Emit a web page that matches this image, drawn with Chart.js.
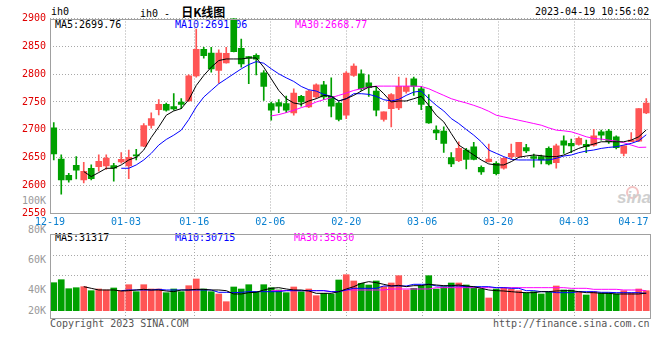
<!DOCTYPE html>
<html><head><meta charset="utf-8">
<script src="https://cdn.jsdelivr.net/npm/chart.js@4.4.0/dist/chart.umd.min.js"></script>
<style>
html,body{margin:0;padding:0;background:#fff;}
#wrap{position:relative;width:660px;height:360px;overflow:hidden;font-family:"DejaVu Sans Mono",monospace;}
.t{position:absolute;font-size:10px;line-height:12px;white-space:pre;font-family:"DejaVu Sans Mono",monospace;}
.vl{position:absolute;left:0;width:46px;text-align:right;font-size:10px;line-height:12px;color:#999;font-family:"DejaVu Sans Mono",monospace;}
canvas{position:absolute;left:0;top:0;}
</style></head><body>
<div id="wrap">
 <div class="t" style="left:51px;top:6px;color:#000">ih0</div>
 <div class="t" style="left:140px;top:6px;color:#000">ih0 - <span style="font-family:'Noto Sans CJK SC';font-weight:bold;font-size:12px;line-height:12px;margin-left:5px">日K线图</span></div>
 <div class="t" style="left:535px;top:6px;color:#000">2023-04-19 10:56:02</div>
 <div class="t" style="left:55px;top:19px;color:#000">MA5:2699.76</div>
 <div class="t" style="left:175px;top:19px;color:#0000ff">MA10:2691.06</div>
 <div class="t" style="left:295px;top:19px;color:#ff00ff">MA30:2668.77</div>
 <div class="t" style="left:55px;top:232px;color:#000">MA5:31317</div>
 <div class="t" style="left:175px;top:232px;color:#0000ff">MA10:30715</div>
 <div class="t" style="left:294px;top:232px;color:#ff00ff">MA30:35630</div>
 <div class="vl" style="top:195px">100K</div>
 <div class="vl" style="top:224px">80K</div>
 <div class="vl" style="top:254px">60K</div>
 <div class="vl" style="top:284px">40K</div>
 <div class="vl" style="top:305px">20K</div>
 <div class="t" style="left:50px;top:318px;color:#555">Copyright 2023 SINA.COM</div>
 <div class="t" style="left:493px;top:318px;color:#555">http://finance.sina.com.cn</div>
 <div style="position:absolute;left:626px;top:186px;width:9px;height:9px;border:2px solid #f3c4c4;border-radius:50%;"></div>
 <div style="position:absolute;left:617px;top:189px;font:italic bold 17px 'Liberation Sans',sans-serif;line-height:18px;color:#cfcfcf;">sina</div>
 <canvas id="main" width="660" height="360"></canvas>
 <canvas id="vol" width="660" height="360"></canvas>
</div>
<script>
const dates = ['12-19','12-20','12-21','12-22','12-23','12-26','12-27','12-28','12-29','12-30',
 '01-03','01-04','01-05','01-06','01-09','01-10','01-11','01-12','01-13','01-16',
 '01-17','01-18','01-19','01-20','01-30','01-31','02-01','02-02','02-03','02-06',
 '02-07','02-08','02-09','02-10','02-13','02-14','02-15','02-16','02-17','02-20',
 '02-21','02-22','02-23','02-24','02-27','02-28','03-01','03-02','03-03','03-06',
 '03-07','03-08','03-09','03-10','03-13','03-14','03-15','03-16','03-17','03-20',
 '03-21','03-22','03-23','03-24','03-27','03-28','03-29','03-30','03-31','04-03',
 '04-04','04-06','04-07','04-10','04-11','04-12','04-13','04-14','04-17','04-18'];

const openP = [2703.6,2647.6,2618,2636.3,2610,2631,2634,2635,2635.7,2642.3,
 2635.1,2655.1,2670.8,2707.7,2736.3,2745.8,2741.7,2750,2751.8,2797,
 2844.6,2838,2806.5,2820.2,2905,2846.4,2831.5,2834,2802.4,2747,
 2748.8,2747,2730.4,2760.1,2741,2758.9,2781,2760.1,2748.2,2726.2,
 2797.6,2800.6,2784.5,2769.6,2718.5,2738.1,2739.3,2769,2791.7,2773.8,
 2742.3,2699.4,2697.6,2650,2644.6,2663.7,2669.6,2632.7,2642.9,2639.9,
 2631,2651.8,2651.8,2667.9,2651.8,2651.8,2666.7,2641.1,2680.4,2675.6,
 2673.8,2673.8,2672.6,2696.4,2697.6,2687.5,2657.7,2678.6,2679.8,2730.4];
const highP = [2713,2655,2622,2651.8,2641.7,2637,2655,2655,2639.9,2659,
 2663.7,2664.9,2711.3,2730.4,2754.2,2748.2,2764.9,2756,2798.8,2881,
 2848.2,2848.2,2843.5,2848,2915,2863,2832,2836.3,2806.5,2750,
 2754.2,2760.7,2773.8,2762,2770.8,2782.7,2786.9,2793.5,2750,2804.8,
 2818.5,2807.7,2798.8,2778,2732.5,2765,2794.6,2792.9,2794.6,2778,
 2763.1,2707.1,2705.4,2658.9,2678.6,2666.7,2677.4,2635.1,2674.4,2642.9,
 2650,2674.4,2677.4,2673.8,2656.5,2654.8,2669.6,2674.4,2689.3,2683.3,
 2687.5,2681.5,2701,2699.4,2701,2689.3,2671,2695,2738.1,2756];
const lowP = [2646,2584.5,2606,2611.9,2604.8,2610,2625.6,2629,2607.7,2640,
 2612,2646,2669.6,2703,2726.8,2733.3,2735.1,2738.1,2751,2794.6,
 2828.6,2803.6,2783.9,2819.6,2840,2812.5,2782.7,2798.8,2753,2717.3,
 2731,2731,2726.2,2742.3,2739.9,2756.5,2754.2,2723.2,2716,2720.2,
 2795.8,2770.8,2760.1,2725,2715.5,2705.4,2736.3,2766,2761.9,2736.3,
 2711.3,2682.3,2659.5,2633.9,2642.9,2629.8,2645.8,2620,2641.7,2619,
 2629.2,2647,2650.6,2659,2632.7,2638.7,2636.9,2631,2657.5,2659,
 2672.6,2659,2670.8,2681.5,2675.6,2665.5,2653,2678.6,2678.6,2729.2];
const closeP = [2656.5,2610,2610,2627.4,2625.6,2612,2643.5,2649,2631,2647,
 2650.6,2653.3,2707.7,2720.2,2745.8,2735.1,2737.5,2745.8,2797,2844.6,
 2833.3,2809.5,2838,2837.5,2840.5,2818.5,2828.6,2826.8,2778,2735.1,
 2742.3,2735.1,2766,2750,2769.6,2781,2758.9,2742.3,2718.5,2801.8,
 2814.3,2773.8,2775.6,2735.1,2732.1,2763.1,2778,2778,2778,2745.8,
 2712.5,2694.6,2675.6,2638.7,2666.7,2647,2647,2624.2,2647.6,2621,
 2648.8,2657.7,2677.4,2662,2648.8,2645.8,2638.7,2671.4,2672.6,2671,
 2684.5,2669.6,2689.3,2690.5,2678.6,2667.9,2671,2681.5,2738.1,2748.2];

const ma5 = [null,null,null,null,2625.0,2616.0,2623.2,2630.9,2630.9,2636.9,
 2645.8,2650.6,2663.7,2686.3,2705.3,2726.2,2733.9,2738.1,2754.1,2779.7,
 2797.6,2812.5,2824.4,2827.3,2827.3,2827.3,2829.1,2829.1,2812.5,2791.6,
 2770.8,2755.9,2748.2,2745.8,2751.8,2755.9,2761.9,2760.1,2751.8,2755.9,
 2761.9,2769.6,2776.8,2777.9,2764.9,2750.0,2751.8,2751.8,2755.9,2760.1,
 2744.0,2726.2,2714.3,2693.4,2672.6,2663.7,2654.7,2645.8,2638.7,2636.9,
 2636.9,2642.8,2650.6,2652.9,2654.7,2653.5,2651.8,2651.8,2654.7,2660.7,
 2666.6,2670.8,2674.4,2678.5,2678.5,2678.5,2678.5,2681.5,2687.5,2699.8];
const ma10 = [null,null,null,null,null,null,null,null,null,2630.9,
 2630.9,2636.9,2645.8,2657.7,2672.6,2682.7,2690.4,2699.4,2718.4,2741.0,
 2758.9,2770.8,2782.7,2791.6,2800.6,2809.5,2817.2,2822.6,2819.6,2809.5,
 2800.6,2793.4,2786.9,2777.9,2772.0,2769.6,2763.7,2760.1,2751.8,2755.9,
 2764.9,2764.9,2763.7,2760.1,2754.1,2751.8,2754.7,2761.9,2767.8,2769.6,
 2755.9,2744.0,2733.9,2720.2,2711.3,2700.6,2690.4,2678.5,2663.7,2657.7,
 2651.8,2647.0,2645.8,2645.8,2645.8,2645.8,2645.8,2648.8,2652.9,2654.7,
 2658.9,2661.9,2663.7,2666.6,2668.4,2669.6,2672.6,2675.6,2680.3,2691.1];
const ma30 = [null,null,null,null,null,null,null,null,null,null,
 null,null,null,null,null,null,null,null,null,null,
 null,null,null,null,null,null,null,null,null,2725.0,
 2727.3,2730.9,2735.1,2739.8,2744.0,2750.0,2754.1,2757.7,2761.9,2766.0,
 2770.8,2773.8,2776.8,2778.5,2778.5,2778.5,2778.5,2778.5,2778.5,2777.9,
 2773.8,2767.8,2761.9,2755.9,2751.8,2748.2,2744.0,2739.2,2733.3,2726.2,
 2723.2,2720.2,2717.2,2714.3,2711.3,2708.3,2703.5,2699.4,2698.2,2696.4,
 2692.2,2687.5,2684.5,2683.3,2681.5,2679.7,2676.8,2672.6,2668.4,2668.8];

const volume = [49840,55180,39160,40940,42720,35600,38630,36850,40410,35600,
 46280,33820,46280,38630,38630,32040,38630,33820,44500,56430,
 38630,33820,29730,16020,42190,38630,46280,33820,46280,40940,
 36850,32040,42190,33820,38630,26700,30970,29730,54650,64080,
 52870,48770,45750,52870,42720,49310,62300,36850,39870,44500,
 62300,38630,42720,49310,49310,45750,40940,38630,22610,38630,
 40940,38630,35600,31510,33820,29730,32750,43970,36850,36850,
 33820,27950,33820,31510,31510,29730,35600,31510,38630,35600];
const volMa5 = [null,null,null,null,42780,39810,36850,36850,36850,35070,
 35660,36850,38030,36850,36850,35070,33880,36850,36850,38030,
 38030,36850,36850,35660,29730,29730,32100,32690,36850,39810,
 41000,38630,36850,36850,35070,30910,30910,30910,33880,38630,
 42780,48710,51680,49900,46930,43960,45150,42780,44560,44560,
 46930,45740,44560,44560,45740,43960,42780,39810,36850,35660,
 35070,33880,32690,32100,32100,33880,33880,35070,35660,35660,
 33880,32100,32100,30910,30910,29730,29730,29730,29730,31317];
const volMa10 = [null,null,null,null,null,null,null,null,null,35660,
 36850,36850,36850,36850,38030,36850,36850,36850,36850,36850,
 36850,36850,32690,32690,32100,32690,33880,33880,33880,33880,
 33880,35660,35660,35660,35660,35660,35660,33880,33880,36850,
 39810,39810,39810,39810,43960,43960,43960,43960,46930,46930,
 46930,43960,43960,43960,43960,42780,42780,42780,42780,41000,
 41000,39810,39810,35660,35660,33880,33880,32100,32100,32100,
 33880,33880,33880,32690,32690,32100,32100,32100,32100,30715];
const volMa30 = [null,null,null,null,null,null,null,null,null,null,
 null,null,null,null,null,null,null,null,null,null,
 null,null,null,null,null,null,null,null,null,35660,
 35660,35660,35660,35660,35660,35660,35660,33880,33880,36850,
 36850,36850,36850,36850,36850,38630,38630,38630,38630,38630,
 38630,41000,41000,41000,41000,41000,41000,41000,41000,41000,
 41000,41000,41000,41000,41000,41000,41000,41000,41000,39810,
 39810,39810,38030,38030,38030,38030,36850,36850,36850,35630];

const dateTickIdx = [0,10,19,29,39,49,59,69,78];
const dateGridIdx = [10,19,29,39,49,59,69];
const volGridVals = [63500, 97900];

const UP = '#ff5555', DOWN = '#00a000';
const GRID = '#a8a8a8';
const DASH = [1,2];
const candleColors = closeP.map((c,i) => c >= openP[i] ? UP : DOWN);
const bodies = openP.map((o,i) => [Math.min(o, closeP[i]), Math.max(o, closeP[i])]);
const wicks = lowP.map((l,i) => [l, highP[i]]);

Chart.defaults.font.family = "'DejaVu Sans Mono', monospace";
Chart.defaults.font.size = 10;

const framePlugin = {
  id: 'frame',
  afterDraw(chart) {
    const {ctx, chartArea: a} = chart;
    const l = Math.round(a.left) + 0.5, t = Math.round(a.top) + 0.5;
    const r = Math.round(a.right) + 0.5, b = Math.round(a.bottom) + 0.5;
    ctx.save();
    ctx.strokeStyle = '#a0a0a0';
    ctx.lineWidth = 1;
    ctx.setLineDash([]);
    ctx.strokeRect(l, t, r - l, b - t);
    ctx.restore();
  }
};

function fixY(s) { s.width = 50; s.paddingTop = 0; s.paddingBottom = 0; }
function xGridColor(c) { return (c.tick && dateGridIdx.includes(c.tick.value)) ? GRID : 'rgba(0,0,0,0)'; }
function lineDs(data, color) {
  return {type: 'line', data: data, borderColor: color, borderWidth: 1, pointRadius: 0,
          fill: false, tension: 0, spanGaps: false};
}

new Chart(document.getElementById('main'), {
  type: 'bar',
  data: {
    labels: dates,
    datasets: [
      lineDs(ma5, '#000000'),
      lineDs(ma10, '#0000ff'),
      lineDs(ma30, '#ff00ff'),
      {data: bodies, backgroundColor: candleColors, barThickness: 6, grouped: false, minBarLength: 1},
      {data: wicks, backgroundColor: candleColors, barThickness: 1, grouped: false}
    ]
  },
  options: {
    responsive: false, animation: false,
    layout: {padding: {left: 0, right: 10, top: 18.5, bottom: 132.7}},
    plugins: {legend: {display: false}, tooltip: {enabled: false}},
    scales: {
      x: {type: 'category', offset: true, display: false},
      x2: {
        type: 'category', offset: false, position: 'bottom',
        grid: {offset: false, drawTicks: false, color: xGridColor, lineWidth: 1},
        border: {display: false, dash: DASH},
        ticks: {
          autoSkip: false, maxRotation: 0, minRotation: 0, padding: 3, color: '#0a80d0',
          callback: function(v) {
            const lbl = dates[v];
            return v === dateTickIdx[dateTickIdx.length - 1] ? lbl + '   ' : lbl;
          }
        },
        afterBuildTicks: s => { s.ticks = s.ticks.filter(t => dateTickIdx.includes(t.value)); },
        afterFit: s => { s.height = 14; s.paddingLeft = 0; s.paddingRight = 0; }
      },
      y: {
        min: 2550, max: 2900,
        ticks: {stepSize: 50, color: '#e00000', padding: 4, callback: v => String(v)},
        grid: {drawTicks: false, color: GRID, lineWidth: 1},
        border: {display: false, dash: DASH},
        afterFit: fixY
      }
    }
  },
  plugins: [framePlugin]
});

new Chart(document.getElementById('vol'), {
  type: 'bar',
  data: {
    labels: dates,
    datasets: [
      lineDs(volMa5, '#000000'),
      lineDs(volMa10, '#0000ff'),
      lineDs(volMa30, '#ff00ff'),
      {data: volume, backgroundColor: candleColors, barThickness: 6, grouped: false}
    ]
  },
  options: {
    responsive: false, animation: false,
    layout: {padding: {left: 0, right: 10, top: 234, bottom: 42}},
    plugins: {legend: {display: false}, tooltip: {enabled: false}},
    scales: {
      x: {type: 'category', offset: true, display: false},
      x2: {
        type: 'category', offset: false, position: 'bottom',
        grid: {offset: false, drawTicks: false, color: xGridColor, lineWidth: 1},
        border: {display: false, dash: DASH},
        ticks: {display: false, autoSkip: false},
        afterBuildTicks: s => { s.ticks = s.ticks.filter(t => dateTickIdx.includes(t.value)); },
        afterFit: s => { s.height = 0; s.paddingLeft = 0; s.paddingRight = 0; }
      },
      y: {
        min: -13000, max: 136500,
        ticks: {display: false},
        grid: {drawTicks: false, color: GRID, lineWidth: 1},
        border: {display: false, dash: DASH},
        afterBuildTicks: s => { s.ticks = volGridVals.map(v => ({value: v})); },
        afterFit: fixY
      }
    }
  },
  plugins: [framePlugin]
});
</script>
</body></html>
